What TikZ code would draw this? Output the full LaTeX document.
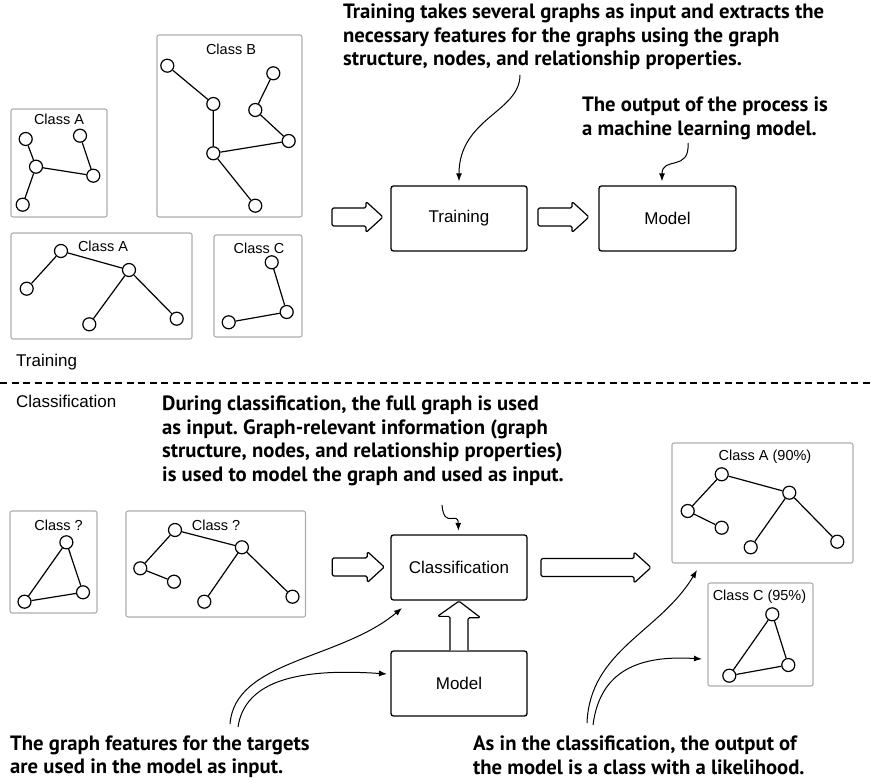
\documentclass[tikz,border=0pt]{standalone}
\usepackage{fontspec}
\setmainfont{Liberation Sans}
\newfontfamily\annotfont{PT Sans}
\usetikzlibrary{arrows.meta}
\newcommand\hollowright[3]{%
  \draw[hollow] (#1,#2-9) -- ++(#3-17,0) -- ++(0,-6.5) -- ++(17,15.5) -- ++(-17,15.5) -- ++(0,-6.5) -- ++(-#3+17,0) -- cycle;}
\begin{document}
\frenchspacing
\begin{tikzpicture}[x=1pt,y=-1pt,
  gbox/.style={draw=black!32, line width=1.1pt, rounded corners=2pt},
  gn/.style={circle, draw, line width=1.2pt, fill=white, minimum size=13pt, inner sep=0pt},
  ge/.style={line width=1.2pt},
  pbox/.style={draw, line width=1.3pt, fill=white, rounded corners=2.5pt, minimum width=136pt, minimum height=65pt, inner sep=0pt, font=\fontsize{17}{20}\selectfont},
  clabel/.style={inner sep=0pt, font=\fontsize{14.5}{17}\selectfont},
  slabel/.style={anchor=west, inner sep=0pt, font=\fontsize{17}{20}\selectfont},
  annot/.style={anchor=north west, inner sep=0pt, align=left, font=\annotfont\bfseries\fontsize{20.7}{23.6}\selectfont},
  callout/.style={line width=1pt, -{Latex[length=8pt,width=6pt]}},
  hollow/.style={draw, line width=1.2pt, fill=white, rounded corners=1.5pt, line join=round}]
\useasboundingbox (0,0) rectangle (871,781);

% ---------- Training part ----------
\draw[gbox] (11,109) rectangle (107,217);
\node[clabel] (lA1) at (59,119) {Class A};
\node[gn] (A1) at (25.7,139) {};
\node[gn] (A2) at (80,135.7) {};
\node[gn] (A3) at (36,166.7) {};
\node[gn] (A4) at (93.3,175.7) {};
\node[gn] (A5) at (22.7,204.7) {};
\draw[ge] (A1) -- (A3) (A3) -- (A5) (A3) -- (A4) (A2) -- (A4);

\draw[gbox] (157,35) rectangle (302,217);
\node[clabel] (lB) at (231,49) {Class B};
\node[gn] (B1) at (167.3,65.7) {};
\node[gn] (B2) at (213.3,104) {};
\node[gn] (B3) at (273.3,73.3) {};
\node[gn] (B4) at (255.3,110) {};
\node[gn] (B5) at (288.7,141) {};
\node[gn] (B6) at (213.3,153.3) {};
\node[gn] (B7) at (255.3,205.7) {};
\draw[ge] (B1) -- (B2) (B2) -- (B6) (B6) -- (B5) (B5) -- (B4) (B4) -- (B3) (B6) -- (B7);

\draw[gbox] (11,233) rectangle (192,339);
\node[clabel] (lA2) at (103,246) {Class A};
\node[gn] (C1) at (61,251) {};
\node[gn] (C2) at (129,270) {};
\node[gn] (C3) at (26.7,288.7) {};
\node[gn] (C4) at (89.3,324.3) {};
\node[gn] (C5) at (176.7,318.7) {};
\draw[ge] (C1) -- (C2) (C1) -- (C3) (C2) -- (C4) (C2) -- (C5);

\draw[gbox] (214,235) rectangle (302,337);
\node[clabel] (lC) at (259,248.7) {Class C};
\node[gn] (D1) at (271.7,262.3) {};
\node[gn] (D2) at (286.7,312) {};
\node[gn] (D3) at (228.7,322.3) {};
\draw[ge] (D1) -- (D2) (D2) -- (D3);

\node[slabel] (trainlbl) at (16,362) {Training};

\hollowright{332}{217}{51}
\hollowright{538}{217}{51}
\node[pbox] (train) at (459,218.5) {Training};
\node[pbox, minimum width=137pt] (model) at (667.5,218.5) {Model};

\node[annot] (t1) at (343,3.5) {Training takes several graphs as input and extracts the\\necessary features for the graphs using the graph\\structure, nodes, and relationship properties.};
\node[annot] (t2) at (582,96.5) {The output of the process is\\a machine learning model.};
\coordinate (s1) at (520,75);
\draw[callout, shorten >=4pt] (s1) .. controls (520,112) and (459,118) .. (train.north);
\coordinate (s2) at (688,143);
\draw[callout, shorten >=4pt] (s2) .. controls (690,172) and (662,156) .. ([xshift=-5.5pt]model.north);

% ---------- separator ----------
\draw[line width=1.1pt, dash pattern=on 7pt off 4.5pt] (0,383) -- (871,383);

% ---------- Classification part ----------
\node[slabel] (clslbl) at (16,401) {Classification};
\node[annot] (t3) at (162,395.5) {During classification, the full graph is used\\as input. Graph-relevant information (graph\\structure, nodes, and relationship properties)\\is used to model the graph and used as input.};

\draw[gbox] (10,511) rectangle (97,613);
\node[clabel] (lq1) at (58.5,525) {Class ?};
\node[gn] (E1) at (66.4,542.3) {};
\node[gn] (E2) at (83,592.3) {};
\node[gn] (E3) at (24.5,601.7) {};
\draw[ge] (E1) -- (E2) (E2) -- (E3) (E3) -- (E1);

\draw[gbox] (126,511) rectangle (305.5,617);
\node[clabel] (lq2) at (216,525) {Class ?};
\node[gn] (F1) at (175,530) {};
\node[gn] (F2) at (241.9,547.3) {};
\node[gn] (F3) at (140.3,568.3) {};
\node[gn] (F4) at (174,581.7) {};
\node[gn] (F5) at (204.3,601.7) {};
\node[gn] (F6) at (292.5,596.7) {};
\draw[ge] (F1) -- (F2) (F1) -- (F3) (F3) -- (F4) (F2) -- (F5) (F2) -- (F6);

\hollowright{332.3}{567}{52}
\hollowright{541}{567.5}{110}
\node[pbox] (cls) at (459,567.5) {Classification};
\node[pbox] (model2) at (459,683.5) {Model};
\draw[hollow] ([xshift=-9pt]model2.north) -- ++(0,-34) -- ++(-12.5,0) -- ([yshift=-0.5pt]cls.south) -- ++(21.5,16.5) -- ++(-12.5,0) -- ([xshift=9pt]model2.north);

\coordinate (s3) at (442,505);
\draw[callout, shorten >=3.5pt] (s3) .. controls (444,530) and (458,510) .. ([xshift=-0.5pt]cls.north);

\draw[gbox] (672,443) rectangle (853,563);
\node[clabel] (lG) at (765,457) {Class A (90\%)};
\node[gn] (G1) at (721.7,474.3) {};
\node[gn] (G2) at (789.3,492.7) {};
\node[gn] (G3) at (687.7,511) {};
\node[gn] (G4) at (721.7,527.7) {};
\node[gn] (G5) at (750.7,547.3) {};
\node[gn] (G6) at (837.3,541.7) {};
\draw[ge] (G1) -- (G2) (G1) -- (G3) (G3) -- (G4) (G2) -- (G5) (G2) -- (G6);

\draw[gbox] (708,583) rectangle (813,686);
\node[clabel] (lH) at (759.5,597) {Class C (95\%)};
\node[gn] (H1) at (772.3,614.3) {};
\node[gn] (H2) at (788.3,665) {};
\node[gn] (H3) at (729.3,675.7) {};
\draw[ge] (H1) -- (H2) (H2) -- (H3) (H3) -- (H1);

\node[annot] (t4) at (10,735.5) {The graph features for the targets\\are used in the model as input.};
\node[annot] (t5) at (473,735.5) {As in the classification, the output of\\the model is a class with a likelihood.};

\coordinate (s4) at (230,724);
\coordinate (e4) at (402,608);
\draw[callout] (s4) .. controls (235,660) and (340,660) .. (e4);
\coordinate (s5) at (238,727);
\coordinate (e5) at (387,674);
\draw[callout] (s5) .. controls (245,680) and (300,668) .. (e5);
\coordinate (s6) at (587,723);
\coordinate (e6) at (697,570);
\draw[callout] (s6) .. controls (590,650) and (660,632) .. (e6);
\coordinate (s7) at (593,725);
\coordinate (e7) at (702,659);
\draw[callout] (s7) .. controls (600,670) and (640,655) .. (e7);
\end{tikzpicture}
\end{document}
